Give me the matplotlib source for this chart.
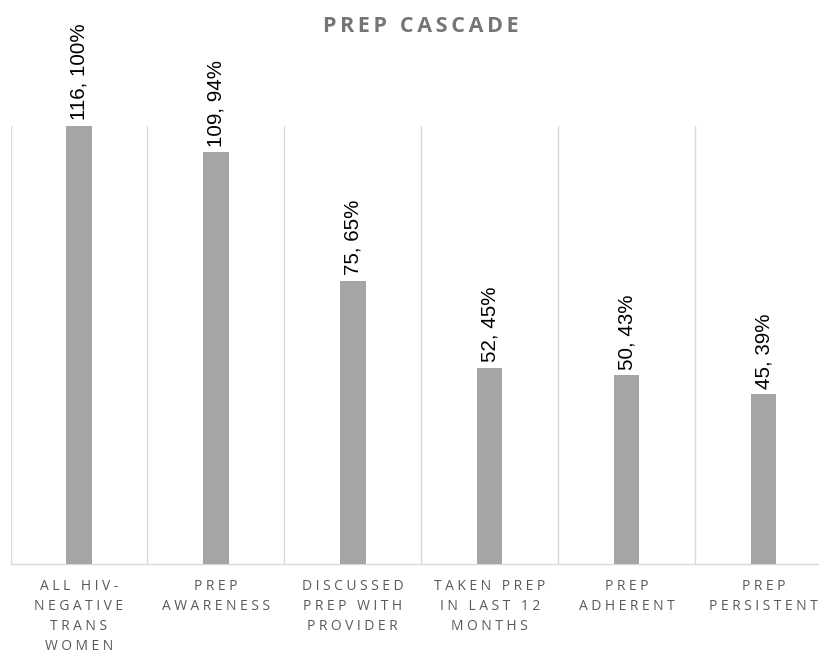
import matplotlib
matplotlib.use("Agg")
import matplotlib.pyplot as plt
import numpy as np

categories = ["ALL HIV-\nNEGATIVE\nTRANS\nWOMEN", "PREP\nAWARENESS", "DISCUSSED\nPREP WITH\nPROVIDER",
              "TAKEN PREP\nIN LAST 12\nMONTHS", "PREP\nADHERENT", "PREP\nPERSISTENT"]
counts = [116, 109, 75, 52, 50, 45]
percents = [100, 94, 65, 45, 43, 39]
title = "PREP CASCADE"

def spaced(s, sep="\u2009"):
    return "\n".join(sep.join(list(line)) for line in s.split("\n"))

fig = plt.figure(figsize=(8.19, 6.57), dpi=100)
W, H = 819, 657
left_px, right_px, bottom_px, top_px = 10.5, 832.0, 564.0, 126.0
ax = fig.add_axes([left_px / W, (H - bottom_px) / H, (right_px - left_px) / W, (bottom_px - top_px) / H])

x = np.arange(len(categories))
ax.bar(x, counts, width=0.186, color="#a5a5a5", zorder=3, clip_on=False)
ax.set_xlim(-0.5, len(categories) - 0.5)
ax.set_ylim(0, 116)

for xi, c, p in zip(x, counts, percents):
    ax.annotate(f"{c}, {p}%", (xi, c), xytext=(0, 4), textcoords="offset points",
                rotation=90, ha="center", va="bottom", fontsize=14.8,
                family=["Liberation Sans", "DejaVu Sans"], color="#000000")

ax.set_xticks(x)
ax.set_xticklabels([spaced(c, "\u2005") for c in categories], family=["Open Sans", "DejaVu Sans"],
                   fontsize=10, color="#595959", linespacing=1.45)
ax.tick_params(axis="x", length=0, pad=11)
ax.set_xticks(np.arange(-0.5, len(categories)), minor=True)
ax.tick_params(axis="x", which="minor", length=0)
ax.grid(axis="x", which="minor", color="#d9d9d9", linewidth=1.0, zorder=0)
ax.set_yticks([])
for s in ["left", "right", "top"]:
    ax.spines[s].set_visible(False)
ax.spines["bottom"].set_color("#d9d9d9")
ax.spines["bottom"].set_linewidth(1.0)

fig.text((left_px + right_px) / 2 / W, 1 - 27 / H, spaced(title, "\u2006"), ha="center", va="center",
         fontsize=15.5, fontweight="bold", color="#757575", family=["Open Sans", "DejaVu Sans"])

fig.savefig("out.png", dpi=100)
